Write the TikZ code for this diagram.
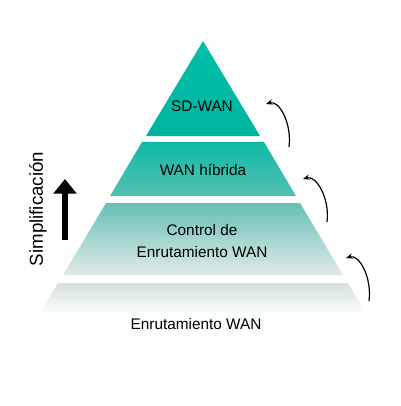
\documentclass[tikz,border=0pt]{standalone}
\usepackage{fontspec}
\setmainfont{Liberation Sans}
\usetikzlibrary{arrows.meta}
\definecolor{tealtop}{RGB}{0,192,168}
\definecolor{tealbase}{RGB}{0,180,159}
\definecolor{tealmid}{RGB}{14,186,165}
\definecolor{teallow}{RGB}{84,192,180}
\definecolor{tealpale}{RGB}{102,192,182}
\definecolor{greypale}{RGB}{226,234,232}
\definecolor{greylow}{RGB}{210,224,222}
\tikzset{
	tierlabel/.style={inner sep=0.75pt, align=center, font=\fontsize{11.5}{16}\selectfont},
	stepcurve/.style={line width=0.9pt, -{Stealth[length=5pt,width=4pt]}},
}

\begin{document}
\begin{tikzpicture}[x=0.75pt,y=0.75pt,yscale=-1,xscale=1]
	\useasboundingbox (0,0) rectangle (400,406);
	
	%Tier 1
	\shade [top color=tealtop, bottom color=tealbase] (203,41) -- (260,136) -- (146,136) -- cycle;
	%Tier 2
	\shade [top color=tealmid, bottom color=teallow] (142,142) -- (264,142) -- (296,196) -- (110,196) -- cycle;
	%Tier 3
	\shade [top color=tealpale, bottom color=greypale] (106,203) -- (300,203) -- (343,275) -- (63,275) -- cycle;
	%Tier 4
	\shade [top color=greylow, bottom color=white, middle color=white!96!greylow] (58,283) -- (348,283) -- (384,344) -- (22,344) -- cycle;
	
	% Text Node
	\node [tierlabel] (sdwan) at (202,106) {SD-WAN};
	% Text Node
	\node [tierlabel] (hibrida) at (203,170) {WAN híbrida};
	% Text Node
	\node [tierlabel] (control) at (202,241) {Control de\\Enrutamiento WAN};
	% Text Node
	\node [tierlabel] (enrut) at (196,324) {Enrutamiento WAN};
	% Text Node
	\node [rotate=90, font=\fontsize{14}{16}\selectfont, inner sep=0.75pt] (simpl) at (38,209) {Simplificación};
	
	%Arrows
	\coordinate (up1) at (65,240);
	\coordinate (up2) at (65,179);
	\draw [line width=4.5pt, -{Triangle[length=11pt,width=17pt]}] (up1) -- (up2);
	
	\coordinate (s1) at (289,147);
	\coordinate (e1) at (266,104);
	\coordinate (s2) at (327,222);
	\coordinate (e2) at (303,179);
	\coordinate (s3) at (369,301);
	\coordinate (e3) at (346,258);
	\draw [stepcurve] (s1) .. controls +(3,-24) and +(13,-4) .. (e1);
	\draw [stepcurve] (s2) .. controls +(3,-24) and +(13,-4) .. (e2);
	\draw [stepcurve] (s3) .. controls +(3,-24) and +(13,-4) .. (e3);
	
\end{tikzpicture}
\end{document}
